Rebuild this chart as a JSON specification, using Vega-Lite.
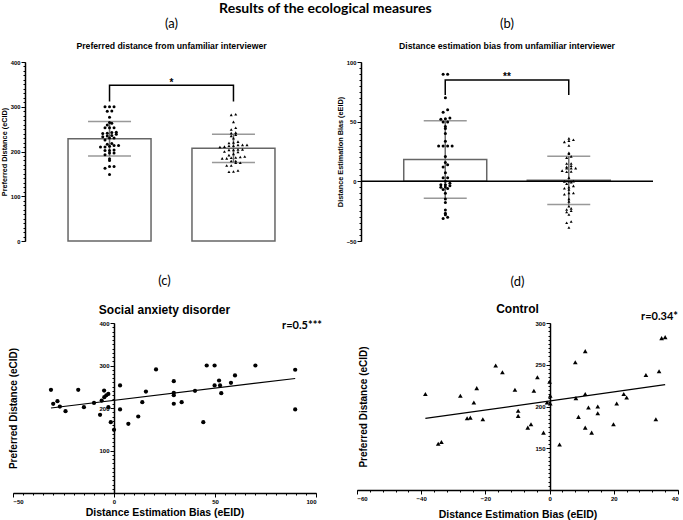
{
  "$schema": "https://vega.github.io/schema/vega-lite/v6.json",
  "padding": {"left": 0, "top": 2, "right": 0, "bottom": 0},
  "background": "white",
  "title": {"text": "Results of the ecological measures", "font": "Lato", "fontSize": 14, "fontWeight": "bold", "anchor": "middle", "dx": -14, "offset": 2, "color": "black"},
  "config": {
    "view": {"stroke": null},
    "font": "Liberation Sans",
    "axis": {"grid": false, "domainColor": "black", "tickColor": "black", "labelColor": "black", "titleColor": "black", "labelFontWeight": "bold", "titleFontWeight": "bold", "labelFont": "Liberation Sans", "titleFont": "Liberation Sans"},
    "title": {"color": "black", "subtitleColor": "black"}
  },
  "datasets": {
    "subj": [
      {"g": "Social anxiety disorder", "bias": -31.2, "pref": 242.7},
      {"g": "Social anxiety disorder", "bias": -30.1, "pref": 209.8},
      {"g": "Social anxiety disorder", "bias": -28, "pref": 216},
      {"g": "Social anxiety disorder", "bias": -26.8, "pref": 203.5},
      {"g": "Social anxiety disorder", "bias": -24, "pref": 192.5},
      {"g": "Social anxiety disorder", "bias": -17.7, "pref": 242.8},
      {"g": "Social anxiety disorder", "bias": -14.9, "pref": 202},
      {"g": "Social anxiety disorder", "bias": -9.9, "pref": 212},
      {"g": "Social anxiety disorder", "bias": -6.9, "pref": 184},
      {"g": "Social anxiety disorder", "bias": -6.1, "pref": 217.6},
      {"g": "Social anxiety disorder", "bias": -4.9, "pref": 241},
      {"g": "Social anxiety disorder", "bias": -4.8, "pref": 225.5},
      {"g": "Social anxiety disorder", "bias": -3.8, "pref": 230},
      {"g": "Social anxiety disorder", "bias": -2.8, "pref": 202},
      {"g": "Social anxiety disorder", "bias": -2.8, "pref": 233},
      {"g": "Social anxiety disorder", "bias": -1.6, "pref": 166.6},
      {"g": "Social anxiety disorder", "bias": 0, "pref": 148.7},
      {"g": "Social anxiety disorder", "bias": 3, "pref": 196.5},
      {"g": "Social anxiety disorder", "bias": 3, "pref": 253},
      {"g": "Social anxiety disorder", "bias": 7.1, "pref": 162.8},
      {"g": "Social anxiety disorder", "bias": 12, "pref": 180},
      {"g": "Social anxiety disorder", "bias": 14, "pref": 213.6},
      {"g": "Social anxiety disorder", "bias": 15.8, "pref": 238.8},
      {"g": "Social anxiety disorder", "bias": 20.8, "pref": 290.6},
      {"g": "Social anxiety disorder", "bias": 29.6, "pref": 263},
      {"g": "Social anxiety disorder", "bias": 29.6, "pref": 235.6},
      {"g": "Social anxiety disorder", "bias": 29.6, "pref": 230},
      {"g": "Social anxiety disorder", "bias": 29.6, "pref": 210},
      {"g": "Social anxiety disorder", "bias": 33.5, "pref": 213.6},
      {"g": "Social anxiety disorder", "bias": 40.1, "pref": 240.4},
      {"g": "Social anxiety disorder", "bias": 44.2, "pref": 166.6},
      {"g": "Social anxiety disorder", "bias": 45.9, "pref": 300},
      {"g": "Social anxiety disorder", "bias": 49.8, "pref": 300},
      {"g": "Social anxiety disorder", "bias": 49.8, "pref": 253},
      {"g": "Social anxiety disorder", "bias": 52, "pref": 264.7},
      {"g": "Social anxiety disorder", "bias": 52.5, "pref": 253},
      {"g": "Social anxiety disorder", "bias": 53.1, "pref": 234.8},
      {"g": "Social anxiety disorder", "bias": 57.9, "pref": 259.3},
      {"g": "Social anxiety disorder", "bias": 59.9, "pref": 276.5},
      {"g": "Social anxiety disorder", "bias": 70, "pref": 300},
      {"g": "Social anxiety disorder", "bias": 89.7, "pref": 290},
      {"g": "Social anxiety disorder", "bias": 89.7, "pref": 196.5},
      {"g": "Control", "bias": -38.7, "pref": 214.9},
      {"g": "Control", "bias": -34.7, "pref": 155.4},
      {"g": "Control", "bias": -33.7, "pref": 157.4},
      {"g": "Control", "bias": -27.8, "pref": 212.9},
      {"g": "Control", "bias": -25.7, "pref": 186},
      {"g": "Control", "bias": -24.7, "pref": 186.7},
      {"g": "Control", "bias": -23.6, "pref": 204.8},
      {"g": "Control", "bias": -22.7, "pref": 222},
      {"g": "Control", "bias": -20.8, "pref": 184.7},
      {"g": "Control", "bias": -16.8, "pref": 249},
      {"g": "Control", "bias": -14.7, "pref": 241},
      {"g": "Control", "bias": -10.8, "pref": 220},
      {"g": "Control", "bias": -9.8, "pref": 194.8},
      {"g": "Control", "bias": -9.8, "pref": 188.8},
      {"g": "Control", "bias": -6.8, "pref": 174.7},
      {"g": "Control", "bias": -5.8, "pref": 178.7},
      {"g": "Control", "bias": -4.9, "pref": 218.9},
      {"g": "Control", "bias": -3.8, "pref": 235},
      {"g": "Control", "bias": -1.9, "pref": 168.7},
      {"g": "Control", "bias": -0.8, "pref": 204.8},
      {"g": "Control", "bias": 0, "pref": 229.7},
      {"g": "Control", "bias": 0.2, "pref": 212.9},
      {"g": "Control", "bias": 0.2, "pref": 203.6},
      {"g": "Control", "bias": 3.1, "pref": 154.6},
      {"g": "Control", "bias": 8, "pref": 253},
      {"g": "Control", "bias": 8.2, "pref": 210},
      {"g": "Control", "bias": 9, "pref": 187.6},
      {"g": "Control", "bias": 11.1, "pref": 266.3},
      {"g": "Control", "bias": 11.1, "pref": 214.9},
      {"g": "Control", "bias": 11.1, "pref": 174.7},
      {"g": "Control", "bias": 12.1, "pref": 198.8},
      {"g": "Control", "bias": 13.1, "pref": 168.7},
      {"g": "Control", "bias": 15, "pref": 200},
      {"g": "Control", "bias": 15, "pref": 192},
      {"g": "Control", "bias": 19.9, "pref": 178.7},
      {"g": "Control", "bias": 20.9, "pref": 203.6},
      {"g": "Control", "bias": 23.1, "pref": 214.9},
      {"g": "Control", "bias": 24, "pref": 210.8},
      {"g": "Control", "bias": 30, "pref": 237.8},
      {"g": "Control", "bias": 33.1, "pref": 184.7},
      {"g": "Control", "bias": 34.1, "pref": 242.2},
      {"g": "Control", "bias": 34.9, "pref": 281.9},
      {"g": "Control", "bias": 36, "pref": 283.1}
    ],
    "brA": [
      {"g": "Social anxiety disorder", "y": 312, "o": 1},
      {"g": "Social anxiety disorder", "y": 348, "o": 2},
      {"g": "Control", "y": 348, "o": 3},
      {"g": "Control", "y": 312, "o": 4}
    ],
    "brB": [
      {"g": "Social anxiety disorder", "y": 72.3, "o": 1},
      {"g": "Social anxiety disorder", "y": 84.9, "o": 2},
      {"g": "Control", "y": 84.9, "o": 3},
      {"g": "Control", "y": 72.3, "o": 4}
    ]
  },
  "spacing": 31,
  "vconcat": [
    {
      "spacing": 0,
      "bounds": "flush",
      "hconcat": [
        {"width": 12, "height": 179, "data": {"values": [{}]}, "mark": {"type": "point", "opacity": 0}, "encoding": {}},
        {
          "spacing": 43,
          "bounds": "flush",
          "hconcat": [
            {
              "width": 293, "height": 179,
              "data": {"name": "subj"},
              "title": {"text": "(a)", "subtitle": "Preferred distance from unfamiliar interviewer", "frame": "group", "font": "Lato", "fontSize": 13, "fontWeight": "normal", "subtitleFont": "Liberation Sans", "subtitleFontSize": 8.7, "subtitleFontWeight": "bold", "subtitlePadding": 11, "offset": 8},
              "resolve": {"axis": {"y": "independent"}},
              "layer": [
                {
                  "mark": {"type": "bar", "fill": "white", "stroke": "#666666", "strokeWidth": 1.5, "width": 83},
                  "encoding": {
                    "x": {"field": "g", "type": "nominal", "scale": {"domain": ["Social anxiety disorder", "Control"], "paddingInner": 0.33, "paddingOuter": 0.347}, "axis": {"title": "Group", "labelAngle": 0, "tickSize": 3, "domainWidth": 1.5, "labelFontSize": 6.7, "labelPadding": 2, "titleFontSize": 7, "titlePadding": 3}},
                    "y": {"aggregate": "mean", "field": "pref", "type": "quantitative", "scale": {"domain": [0, 400], "nice": false}, "axis": {"orient": "left", "title": "Preferred Distance (eCID)", "values": [0, 100, 200, 300, 400], "tickSize": 4, "domainWidth": 1.5, "labelFontSize": 5.8, "labelPadding": 1, "titleFontSize": 7.3, "titlePadding": 2}}
                  }
                },
                {
                  "mark": {"type": "errorbar", "extent": "stdev", "ticks": true, "size": 43, "thickness": 1.5, "color": "#6e6e6e"},
                  "encoding": {
                    "x": {"field": "g", "type": "nominal", "scale": {"domain": ["Social anxiety disorder", "Control"]}, "axis": null},
                    "y": {"field": "pref", "type": "quantitative", "axis": null}
                  }
                },
                {
                  "transform": [
                    {"bin": {"step": 8}, "field": "pref", "as": "pb"},
                    {"joinaggregate": [{"op": "count", "as": "n"}], "groupby": ["g", "pb"]},
                    {"window": [{"op": "row_number", "as": "k"}], "groupby": ["g", "pb"], "sort": [{"field": "pref", "order": "ascending"}]},
                    {"calculate": "datum.k - 1 - (datum.n - 1) / 2", "as": "off"}
                  ],
                  "mark": {"type": "point", "filled": true, "size": 9, "opacity": 1, "color": "black"},
                  "encoding": {
                    "x": {"field": "g", "type": "nominal", "scale": {"domain": ["Social anxiety disorder", "Control"]}, "axis": null},
                    "xOffset": {"field": "off", "type": "quantitative", "scale": {"domain": [-9.2, 9.2]}},
                    "y": {"field": "pref", "type": "quantitative", "axis": null},
                    "shape": {"field": "g", "type": "nominal", "scale": {"domain": ["Social anxiety disorder", "Control"], "range": ["circle", "triangle-up"]}, "legend": null}
                  }
                },
                {
                  "data": {"name": "brA"},
                  "mark": {"type": "line", "color": "black", "strokeWidth": 1.5},
                  "encoding": {
                    "x": {"field": "g", "type": "nominal", "scale": {"domain": ["Social anxiety disorder", "Control"]}, "axis": null},
                    "y": {"field": "y", "type": "quantitative", "axis": null},
                    "order": {"field": "o", "type": "quantitative"}
                  }
                },
                {
                  "data": {"values": [{}]},
                  "mark": {"type": "text", "text": "*", "fontSize": 10, "fontWeight": "bold", "font": "Liberation Sans", "baseline": "alphabetic", "color": "black"},
                  "encoding": {"y": {"datum": 347, "type": "quantitative", "axis": null}}
                },
                {
                  "mark": {"type": "point", "opacity": 0},
                  "encoding": {"y": {"field": "pref", "type": "quantitative", "axis": {"orient": "left", "values": [0,10,20,30,40,50,60,70,80,90,100,110,120,130,140,150,160,170,180,190,200,210,220,230,240,250,260,270,280,290,300,310,320,330,340,350,360,370,380,390,400], "labels": false, "domain": false, "tickSize": 2, "title": null}}}
                }
              ]
            },
            {
              "width": 292, "height": 179,
              "data": {"name": "subj"},
              "title": {"text": "(b)", "subtitle": "Distance estimation bias from unfamiliar interviewer", "frame": "group", "font": "Lato", "fontSize": 13, "fontWeight": "normal", "subtitleFont": "Liberation Sans", "subtitleFontSize": 8.7, "subtitleFontWeight": "bold", "subtitlePadding": 11, "offset": 8},
              "resolve": {"axis": {"y": "independent"}},
              "layer": [
                {
                  "mark": {"type": "bar", "fill": "white", "stroke": "#666666", "strokeWidth": 1.5, "width": 83},
                  "encoding": {
                    "x": {"field": "g", "type": "nominal", "scale": {"domain": ["Social anxiety disorder", "Control"], "paddingInner": 0.33, "paddingOuter": 0.347}, "axis": {"title": "Group", "labelAngle": 0, "tickSize": 3, "domainWidth": 1.5, "labelFontSize": 6.7, "labelPadding": 2, "titleFontSize": 7, "titlePadding": 3}},
                    "y": {"aggregate": "mean", "field": "bias", "type": "quantitative", "scale": {"domain": [-50, 100], "nice": false}, "axis": {"orient": "left", "title": "Distance Estimation Bias (eEID)", "values": [-50, 0, 50, 100], "tickSize": 4, "domainWidth": 1.5, "labelFontSize": 5.8, "labelPadding": 1, "titleFontSize": 7.3, "titlePadding": 2}}
                  }
                },
                {
                  "data": {"values": [{}]},
                  "mark": {"type": "rule", "color": "black", "strokeWidth": 1.5},
                  "encoding": {"y": {"datum": 0, "type": "quantitative", "axis": null}}
                },
                {
                  "mark": {"type": "errorbar", "extent": "stdev", "ticks": true, "size": 43, "thickness": 1.5, "color": "#6e6e6e"},
                  "encoding": {
                    "x": {"field": "g", "type": "nominal", "scale": {"domain": ["Social anxiety disorder", "Control"]}, "axis": null},
                    "y": {"field": "bias", "type": "quantitative", "axis": null}
                  }
                },
                {
                  "transform": [
                    {"bin": {"step": 3}, "field": "bias", "as": "bb"},
                    {"joinaggregate": [{"op": "count", "as": "n"}], "groupby": ["g", "bb"]},
                    {"window": [{"op": "row_number", "as": "k"}], "groupby": ["g", "bb"], "sort": [{"field": "bias", "order": "ascending"}]},
                    {"calculate": "datum.k - 1 - (datum.n - 1) / 2", "as": "off"}
                  ],
                  "mark": {"type": "point", "filled": true, "size": 9, "opacity": 1, "color": "black"},
                  "encoding": {
                    "x": {"field": "g", "type": "nominal", "scale": {"domain": ["Social anxiety disorder", "Control"]}, "axis": null},
                    "xOffset": {"field": "off", "type": "quantitative", "scale": {"domain": [-9.2, 9.2]}},
                    "y": {"field": "bias", "type": "quantitative", "axis": null},
                    "shape": {"field": "g", "type": "nominal", "scale": {"domain": ["Social anxiety disorder", "Control"], "range": ["circle", "triangle-up"]}, "legend": null}
                  }
                },
                {
                  "data": {"name": "brB"},
                  "mark": {"type": "line", "color": "black", "strokeWidth": 1.5},
                  "encoding": {
                    "x": {"field": "g", "type": "nominal", "scale": {"domain": ["Social anxiety disorder", "Control"]}, "axis": null},
                    "y": {"field": "y", "type": "quantitative", "axis": null},
                    "order": {"field": "o", "type": "quantitative"}
                  }
                },
                {
                  "data": {"values": [{}]},
                  "mark": {"type": "text", "text": "**", "fontSize": 10, "fontWeight": "bold", "font": "Liberation Sans", "baseline": "alphabetic", "color": "black"},
                  "encoding": {"y": {"datum": 85, "type": "quantitative", "axis": null}}
                },
                {
                  "mark": {"type": "point", "opacity": 0},
                  "encoding": {"y": {"field": "bias", "type": "quantitative", "axis": {"orient": "left", "values": [-50,-45,-40,-35,-30,-25,-20,-15,-10,-5,0,5,10,15,20,25,30,35,40,45,50,55,60,65,70,75,80,85,90,95,100], "labels": false, "domain": false, "tickSize": 2, "title": null}}}
                }
              ]
            }
          ]
        }
      ]
    },
    {
      "spacing": 41,
      "bounds": "flush",
      "hconcat": [
        {
          "width": 303, "height": 170,
          "data": {"name": "subj"},
          "title": {"text": "(c)", "subtitle": "Social anxiety disorder", "frame": "group", "font": "Lato", "fontSize": 13, "fontWeight": "normal", "subtitleFont": "Liberation Sans", "subtitleFontSize": 12, "subtitleFontWeight": "bold", "subtitlePadding": 17, "offset": 4},
          "resolve": {"axis": {"x": "independent", "y": "independent"}},
          "layer": [
            {
              "transform": [{"filter": "datum.g == 'Social anxiety disorder'"}],
              "mark": {"type": "point", "filled": true, "size": 18, "opacity": 1, "color": "black", "shape": "circle"},
              "encoding": {
                "x": {"field": "bias", "type": "quantitative", "scale": {"domain": [-50, 100], "nice": false, "zero": false}, "axis": {"orient": "bottom", "values": [-50, 0, 50, 100], "title": "Distance Estimation Bias (eEID)", "tickSize": 4, "domainWidth": 1.5, "labelFontSize": 6, "labelPadding": 1, "titleFontSize": 10.5, "titlePadding": 3}},
                "y": {"field": "pref", "type": "quantitative", "scale": {"domain": [0, 400], "nice": false, "zero": false}, "axis": {"orient": "left", "values": [100, 200, 300, 400], "offset": -101, "title": "Preferred Distance (eCID)", "titleFontSize": 10, "titleX": -96, "tickSize": 4, "domainWidth": 1.5, "labelFontSize": 6, "labelPadding": 1}}
              }
            },
            {
              "transform": [{"filter": "datum.g == 'Social anxiety disorder'"}, {"regression": "pref", "on": "bias"}],
              "mark": {"type": "line", "color": "black", "strokeWidth": 1.2},
              "encoding": {
                "x": {"field": "bias", "type": "quantitative", "axis": null},
                "y": {"field": "pref", "type": "quantitative", "axis": null}
              }
            },
            {
              "transform": [{"filter": "datum.g == 'Social anxiety disorder'"}],
              "mark": {"type": "point", "opacity": 0},
              "encoding": {
                "x": {"field": "bias", "type": "quantitative", "axis": {"orient": "bottom", "values": [-50,-45,-40,-35,-30,-25,-20,-15,-10,-5,0,5,10,15,20,25,30,35,40,45,50,55,60,65,70,75,80,85,90,95,100], "labels": false, "domain": false, "tickSize": 2, "title": null}},
                "y": {"field": "pref", "type": "quantitative", "axis": {"orient": "left", "offset": -101, "values": [0,10,20,30,40,50,60,70,80,90,100,110,120,130,140,150,160,170,180,190,200,210,220,230,240,250,260,270,280,290,300,310,320,330,340,350,360,370,380,390,400], "labels": false, "domain": false, "tickSize": 2, "title": null}}
              }
            },
            {
              "data": {"values": [{}]},
              "mark": {"type": "text", "text": "r=0.5***", "font": "Lato", "fontWeight": "bold", "fontSize": 11, "align": "right", "baseline": "alphabetic", "dx": 6, "color": "black"},
              "encoding": {
                "x": {"datum": 100, "type": "quantitative", "axis": null},
                "y": {"datum": 385, "type": "quantitative", "axis": null}
              }
            }
          ]
        },
        {
          "width": 321, "height": 167,
          "data": {"name": "subj"},
          "title": {"text": "(d)", "subtitle": "Control", "frame": "group", "font": "Lato", "fontSize": 13, "fontWeight": "normal", "subtitleFont": "Liberation Sans", "subtitleFontSize": 12, "subtitleFontWeight": "bold", "subtitlePadding": 15, "offset": -4},
          "resolve": {"axis": {"x": "independent", "y": "independent"}},
          "layer": [
            {
              "transform": [{"filter": "datum.g == 'Control'"}],
              "mark": {"type": "point", "filled": true, "size": 22, "opacity": 1, "color": "black", "shape": "triangle-up"},
              "encoding": {
                "x": {"field": "bias", "type": "quantitative", "scale": {"domain": [-60, 40], "nice": false, "zero": false}, "axis": {"orient": "bottom", "values": [-60, -40, -20, 0, 20, 40], "title": "Distance Estimation Bias (eEID)", "tickSize": 4, "domainWidth": 1.5, "labelFontSize": 6, "labelPadding": 1, "titleFontSize": 10.5, "titlePadding": 8}},
                "y": {"field": "pref", "type": "quantitative", "scale": {"domain": [100, 300], "nice": false, "zero": false}, "axis": {"orient": "left", "values": [150, 200, 250, 300], "offset": -193, "title": "Preferred Distance (eCID)", "titleFontSize": 10, "titleX": -182, "tickSize": 4, "domainWidth": 1.5, "labelFontSize": 6, "labelPadding": 1}}
              }
            },
            {
              "transform": [{"filter": "datum.g == 'Control'"}, {"regression": "pref", "on": "bias"}],
              "mark": {"type": "line", "color": "black", "strokeWidth": 1.2},
              "encoding": {
                "x": {"field": "bias", "type": "quantitative", "axis": null},
                "y": {"field": "pref", "type": "quantitative", "axis": null}
              }
            },
            {
              "transform": [{"filter": "datum.g == 'Control'"}],
              "mark": {"type": "point", "opacity": 0},
              "encoding": {
                "x": {"field": "bias", "type": "quantitative", "axis": {"orient": "bottom", "values": [-60,-56,-52,-48,-44,-40,-36,-32,-28,-24,-20,-16,-12,-8,-4,0,4,8,12,16,20,24,28,32,36,40], "labels": false, "domain": false, "tickSize": 2, "title": null}},
                "y": {"field": "pref", "type": "quantitative", "axis": {"orient": "left", "offset": -193, "values": [100,105,110,115,120,125,130,135,140,145,150,155,160,165,170,175,180,185,190,195,200,205,210,215,220,225,230,235,240,245,250,255,260,265,270,275,280,285,290,295,300], "labels": false, "domain": false, "tickSize": 2, "title": null}}
              }
            },
            {
              "data": {"values": [{}]},
              "mark": {"type": "text", "text": "r=0.34*", "font": "Lato", "fontWeight": "bold", "fontSize": 11, "align": "right", "baseline": "alphabetic", "color": "black"},
              "encoding": {
                "x": {"datum": 40, "type": "quantitative", "axis": null},
                "y": {"datum": 303, "type": "quantitative", "axis": null}
              }
            }
          ]
        }
      ]
    }
  ]
}
